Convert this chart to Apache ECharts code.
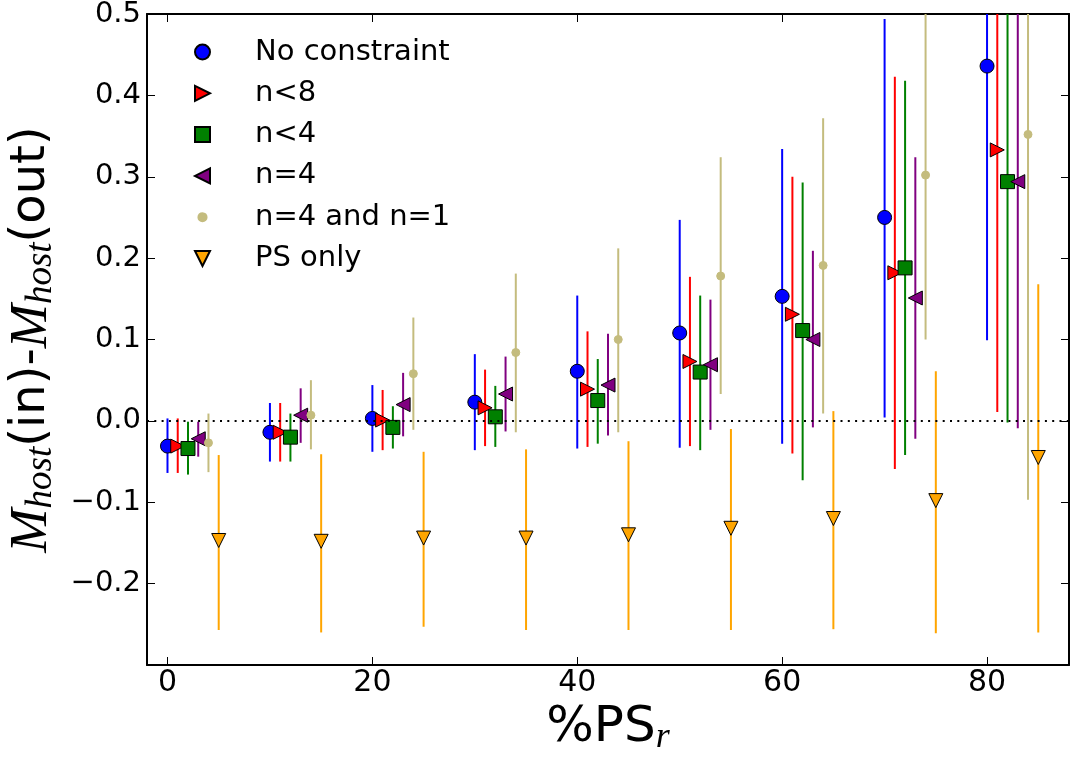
<!DOCTYPE html>
<html>
<head>
<meta charset="utf-8">
<script src="https://cdn.jsdelivr.net/npm/echarts@6.0.0/dist/echarts.min.js"></script>
<style>
  html, body { margin: 0; padding: 0; background: #fff; }
  #scatter-chart { width: 1070px; height: 757px; }
</style>
</head>
<body>
<div id="scatter-chart"></div>
<script>
// %PS_r bins, each constraint is shifted right by its offset
const psBins = [0, 10, 20, 30, 40, 50, 60, 70, 80];
const xTicks = [0, 20, 40, 60, 80];
const yTicks = [-0.2, -0.1, 0.0, 0.1, 0.2, 0.3, 0.4, 0.5];

const noConstraintVal = [-0.031, -0.014, 0.003, 0.023, 0.061, 0.108, 0.153, 0.250, 0.436];
const noConstraintLo = [-0.064, -0.050, -0.038, -0.036, -0.034, -0.033, -0.028, 0.004, 0.099];
const noConstraintHi = [0.003, 0.022, 0.044, 0.082, 0.154, 0.247, 0.334, 0.494, 0.56];

const nLess8Val = [-0.031, -0.014, 0.001, 0.016, 0.039, 0.073, 0.131, 0.182, 0.333];
const nLess8Lo = [-0.064, -0.050, -0.036, -0.031, -0.032, -0.031, -0.040, -0.059, 0.011];
const nLess8Hi = [0.003, 0.022, 0.038, 0.063, 0.110, 0.177, 0.300, 0.423, 0.56];

const nLess4Val = [-0.034, -0.020, -0.008, 0.005, 0.025, 0.060, 0.111, 0.188, 0.294];
const nLess4Lo = [-0.066, -0.050, -0.034, -0.032, -0.028, -0.036, -0.073, -0.042, -0.002];
const nLess4Hi = [-0.001, 0.009, 0.018, 0.043, 0.076, 0.154, 0.293, 0.418, 0.56];

const nEq4Val = [-0.022, 0.007, 0.020, 0.033, 0.044, 0.069, 0.100, 0.151, 0.294];
const nEq4Lo = [-0.044, -0.027, -0.019, -0.013, -0.018, -0.011, -0.008, -0.022, -0.009];
const nEq4Hi = [-0.001, 0.040, 0.059, 0.079, 0.107, 0.149, 0.209, 0.324, 0.56];

const nEq4n1Val = [-0.027, 0.007, 0.058, 0.084, 0.100, 0.178, 0.191, 0.302, 0.352];
const nEq4n1Lo = [-0.063, -0.035, -0.011, -0.014, -0.014, 0.033, 0.009, 0.100, -0.097];
const nEq4n1Hi = [0.009, 0.050, 0.127, 0.181, 0.212, 0.324, 0.372, 0.56, 0.56];

const psOnlyVal = [-0.147, -0.148, -0.144, -0.144, -0.140, -0.132, -0.120, -0.098, -0.045];
const psOnlyLo = [-0.257, -0.260, -0.253, -0.257, -0.257, -0.257, -0.256, -0.261, -0.260];
const psOnlyHi = [-0.042, -0.041, -0.038, -0.035, -0.025, -0.010, 0.012, 0.061, 0.168];

const groups = [
  { name: 'No constraint', offset: 0, val: noConstraintVal, lo: noConstraintLo, hi: noConstraintHi,
    color: '#0000ff', symbol: 'circle', size: 14, edge: '#000' },
  { name: 'n<8', offset: 1, val: nLess8Val, lo: nLess8Lo, hi: nLess8Hi,
    color: '#ff0000', symbol: 'path://M0,0L14,7L0,14Z', size: 14, edge: '#000' },
  { name: 'n<4', offset: 2, val: nLess4Val, lo: nLess4Lo, hi: nLess4Hi,
    color: '#008000', symbol: 'rect', size: 14, edge: '#000' },
  { name: 'n=4', offset: 3, val: nEq4Val, lo: nEq4Lo, hi: nEq4Hi,
    color: '#800080', symbol: 'path://M14,0L0,7L14,14Z', size: 14, edge: '#000' },
  { name: 'n=4 and n=1', offset: 4, val: nEq4n1Val, lo: nEq4n1Lo, hi: nEq4n1Hi,
    color: '#c4bc7e', symbol: 'circle', size: 8, edge: '#c4bc7e' },
  { name: 'PS only', offset: 5, val: psOnlyVal, lo: psOnlyLo, hi: psOnlyHi,
    color: '#ffa500', symbol: 'path://M0,0L14,0L7,14Z', size: 14, edge: '#000' },
];

function fmtTick(v) {
  return v.toFixed(1).replace('-', '\u2212');
}

let series = [];
groups.forEach((g, i) => {
  let errSeries = {
    name: g.name + ' err',
    type: 'custom',
    clip: true,
    data: psBins.map((x, j) => [x + g.offset, g.lo[j], g.hi[j]]),
    encode: { x: 0, y: [1, 2] },
    renderItem: function (params, api) {
      let p1 = api.coord([api.value(0), api.value(1)]);
      let p2 = api.coord([api.value(0), api.value(2)]);
      return {
        type: 'line',
        shape: { x1: p1[0], y1: p1[1], x2: p2[0], y2: p2[1] },
        style: { stroke: g.color, lineWidth: 2 },
      };
    },
  };
  if (i === 0) {
    // dotted zero line
    errSeries.markLine = {
      silent: true,
      symbol: 'none',
      label: { show: false },
      lineStyle: { color: '#000', type: [2, 5.3], width: 2 },
      data: [{ yAxis: 0 }],
    };
  }
  series.push(errSeries);
  series.push({
    name: g.name,
    type: 'scatter',
    symbol: g.symbol,
    symbolSize: g.size,
    itemStyle: { color: g.color, borderColor: g.edge, borderWidth: 1, opacity: 1 },
    data: psBins.map((x, j) => [x + g.offset, g.val[j]]),
  });
});

let legendData = groups.map((g) => {
  if (g.size < 10) {
    // small dot inside a full-size box so the legend icon keeps its size
    return { name: g.name, icon: 'path://M0,0M14,14M7,3.2A3.8,3.8,0,1,1,6.99,3.2Z' };
  }
  return { name: g.name };
});

let chartDom = document.getElementById('scatter-chart');
let myChart = echarts.init(chartDom);

let option = {
  animation: false,
  textStyle: { fontFamily: 'DejaVu Sans', color: '#000' },
  grid: { left: 147, right: 1, top: 14, bottom: 92, outerBoundsMode: 'none' },
  legend: {
    data: legendData,
    orient: 'vertical',
    left: 194,
    top: 37,
    padding: 0,
    itemWidth: 15,
    itemHeight: 15,
    itemGap: 11.3,
    selectedMode: false,
    textStyle: { fontSize: 29, lineHeight: 30, color: '#000', padding: [0, 0, 0, 40] },
  },
  xAxis: [
    {
      type: 'value',
      min: -2,
      max: 88,
      name: '{n|%PS}{r|r}',
      nameLocation: 'middle',
      nameGap: 28,
      nameTextStyle: {
        rich: {
          n: { fontFamily: 'DejaVu Sans', fontSize: 50, lineHeight: 56 },
          r: { fontFamily: 'Liberation Serif', fontStyle: 'italic', fontSize: 36, lineHeight: 26, verticalAlign: 'bottom' },
        },
      },
      splitLine: { show: false },
      axisLine: { onZero: false, lineStyle: { color: '#000', width: 2 } },
      axisTick: { inside: true, length: 8, customValues: xTicks, lineStyle: { color: '#000', width: 1 } },
      axisLabel: { customValues: xTicks, fontSize: 30, margin: 3, color: '#000' },
    },
    {
      type: 'value',
      position: 'top',
      min: -2,
      max: 88,
      splitLine: { show: false },
      axisLine: { onZero: false, lineStyle: { color: '#000', width: 2 } },
      axisTick: { inside: true, length: 8, customValues: xTicks, lineStyle: { color: '#000', width: 1 } },
      axisLabel: { show: false },
    },
  ],
  yAxis: [
    {
      type: 'value',
      min: -0.3,
      max: 0.5,
      name: '{m|M}{s|host}{n|(in)-}{m|M}{s|host}{n|(out)}',
      nameLocation: 'middle',
      nameRotate: 90,
      nameGap: 83,
      nameTextStyle: {
        rich: {
          n: { fontFamily: 'DejaVu Sans', fontSize: 48, lineHeight: 56 },
          m: { fontFamily: 'Liberation Serif', fontStyle: 'italic', fontSize: 53, lineHeight: 56 },
          s: { fontFamily: 'Liberation Serif', fontStyle: 'italic', fontSize: 37, lineHeight: 26, verticalAlign: 'bottom' },
        },
      },
      splitLine: { show: false },
      axisLine: { onZero: false, lineStyle: { color: '#000', width: 2 } },
      axisTick: { inside: true, length: 8, customValues: yTicks, lineStyle: { color: '#000', width: 1 } },
      axisLabel: { customValues: yTicks, fontSize: 29, margin: 6, color: '#000', formatter: fmtTick },
    },
    {
      type: 'value',
      position: 'right',
      min: -0.3,
      max: 0.5,
      splitLine: { show: false },
      axisLine: { onZero: false, lineStyle: { color: '#000', width: 2 } },
      axisTick: { inside: true, length: 8, customValues: yTicks, lineStyle: { color: '#000', width: 1 } },
      axisLabel: { show: false },
    },
  ],
  series: series,
};

myChart.setOption(option);
</script>
</body>
</html>
